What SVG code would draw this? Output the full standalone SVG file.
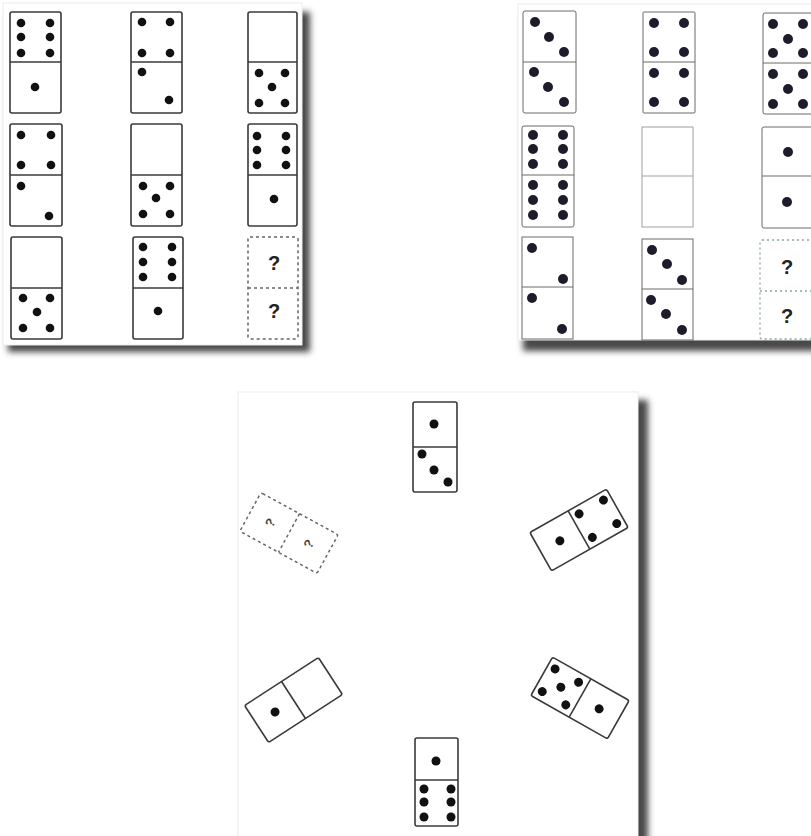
<svg xmlns="http://www.w3.org/2000/svg" width="811" height="836" viewBox="0 0 811 836">
<style>
.bg{fill:#ffffff}
.panel{fill:#ffffff;stroke:#ececec;stroke-width:1}
.shadow{fill:#4a4a4a}
.dom{fill:#ffffff;stroke:#3a3a3a;stroke-width:1.6}
.dom2{fill:#ffffff;stroke:#6a6a6a;stroke-width:1}
.light{fill:#ffffff;stroke:#a0a0a0;stroke-width:1}
.div{stroke:#3a3a3a;stroke-width:1.6}
.div2{stroke:#6a6a6a;stroke-width:1}
.divl{stroke:#a0a0a0;stroke-width:1}
.dash{fill:#ffffff;stroke:#666;stroke-width:1.5;stroke-dasharray:3 3}
.dashg{fill:#ffffff;stroke:#8aa898;stroke-width:1.3;stroke-dasharray:2 3}
.pip{fill:#111111}
.pip2{fill:#1c1c2c}
.q{font-family:"Liberation Sans",Arial,sans-serif;font-weight:bold;font-size:20px;fill:#222;text-anchor:middle}
.qs{font-family:"Liberation Sans",Arial,sans-serif;font-weight:bold;font-size:13px;fill:#444;text-anchor:middle}
</style>
<defs>
<filter id="blur" x="-10%" y="-10%" width="130%" height="130%"><feGaussianBlur stdDeviation="3"/></filter>
</defs>
<rect class="bg" x="0" y="0" width="811" height="836"/>

<!-- panels -->
<g id="panel-top-left">
<rect class="shadow" x="8" y="12" width="302" height="340" filter="url(#blur)"/>
<rect class="panel" x="3" y="3" width="299" height="342"/>
</g>
<g id="panel-top-right">
<rect class="shadow" x="523" y="12" width="300" height="339" filter="url(#blur)"/>
<rect class="panel" x="518" y="4" width="300" height="336"/>
</g>
<g id="panel-bottom">
<rect class="shadow" x="244" y="400" width="404" height="450" filter="url(#blur)"/>
<rect class="panel" x="238" y="392" width="400" height="450"/>
</g>

<!-- top-left grid -->
<g id="tl-r1c1">
<rect class="dom" x="10" y="12" width="51" height="101" rx="2"/>
<line class="div" x1="10" y1="62" x2="61" y2="62"/>
<circle class="pip" cx="21" cy="23" r="4.3"/><circle class="pip" cx="50" cy="23" r="4.3"/>
<circle class="pip" cx="21" cy="37" r="4.3"/><circle class="pip" cx="50" cy="37" r="4.3"/>
<circle class="pip" cx="21" cy="53" r="4.3"/><circle class="pip" cx="50" cy="53" r="4.3"/>
<circle class="pip" cx="35" cy="87" r="4.3"/>
</g>
<g id="tl-r1c2">
<rect class="dom" x="131" y="12" width="51" height="101" rx="2"/>
<line class="div" x1="131" y1="62" x2="182" y2="62"/>
<circle class="pip" cx="142" cy="22" r="4.3"/><circle class="pip" cx="170" cy="22" r="4.3"/>
<circle class="pip" cx="142" cy="53" r="4.3"/><circle class="pip" cx="170" cy="53" r="4.3"/>
<circle class="pip" cx="142" cy="72" r="4.3"/><circle class="pip" cx="169" cy="100" r="4.3"/>
</g>
<g id="tl-r1c3">
<rect class="dom" x="248" y="12" width="49" height="101" rx="2"/>
<line class="div" x1="248" y1="62" x2="297" y2="62"/>
<circle class="pip" cx="259" cy="73" r="4.3"/><circle class="pip" cx="285" cy="73" r="4.3"/>
<circle class="pip" cx="272" cy="87" r="4.3"/>
<circle class="pip" cx="259" cy="103" r="4.3"/><circle class="pip" cx="285" cy="103" r="4.3"/>
</g>
<g id="tl-r2c1">
<rect class="dom" x="10" y="124" width="52" height="102" rx="2"/>
<line class="div" x1="10" y1="175" x2="62" y2="175"/>
<circle class="pip" cx="21" cy="135" r="4.3"/><circle class="pip" cx="51" cy="135" r="4.3"/>
<circle class="pip" cx="21" cy="165" r="4.3"/><circle class="pip" cx="51" cy="165" r="4.3"/>
<circle class="pip" cx="21" cy="186" r="4.3"/><circle class="pip" cx="49" cy="216" r="4.3"/>
</g>
<g id="tl-r2c2">
<rect class="dom" x="131" y="124" width="51" height="102" rx="2"/>
<line class="div" x1="131" y1="175" x2="182" y2="175"/>
<circle class="pip" cx="143" cy="186" r="4.3"/><circle class="pip" cx="170" cy="186" r="4.3"/>
<circle class="pip" cx="156" cy="198" r="4.3"/>
<circle class="pip" cx="143" cy="214" r="4.3"/><circle class="pip" cx="170" cy="214" r="4.3"/>
</g>
<g id="tl-r2c3">
<rect class="dom" x="248" y="124" width="49" height="102" rx="2"/>
<line class="div" x1="248" y1="175" x2="297" y2="175"/>
<circle class="pip" cx="257" cy="136" r="4.3"/><circle class="pip" cx="286" cy="136" r="4.3"/>
<circle class="pip" cx="257" cy="150" r="4.3"/><circle class="pip" cx="286" cy="150" r="4.3"/>
<circle class="pip" cx="257" cy="165" r="4.3"/><circle class="pip" cx="286" cy="165" r="4.3"/>
<circle class="pip" cx="274" cy="199" r="4.3"/>
</g>
<g id="tl-r3c1">
<rect class="dom" x="11" y="237" width="51" height="102" rx="2"/>
<line class="div" x1="11" y1="288" x2="62" y2="288"/>
<circle class="pip" cx="23" cy="298" r="4.3"/><circle class="pip" cx="50" cy="298" r="4.3"/>
<circle class="pip" cx="37" cy="312" r="4.3"/>
<circle class="pip" cx="23" cy="328" r="4.3"/><circle class="pip" cx="50" cy="328" r="4.3"/>
</g>
<g id="tl-r3c2">
<rect class="dom" x="133" y="237" width="50" height="102" rx="2"/>
<line class="div" x1="133" y1="288" x2="183" y2="288"/>
<circle class="pip" cx="143" cy="247" r="4.3"/><circle class="pip" cx="172" cy="247" r="4.3"/>
<circle class="pip" cx="143" cy="262" r="4.3"/><circle class="pip" cx="172" cy="262" r="4.3"/>
<circle class="pip" cx="143" cy="277" r="4.3"/><circle class="pip" cx="172" cy="277" r="4.3"/>
<circle class="pip" cx="158" cy="311" r="4.3"/>
</g>
<g id="tl-r3c3">
<rect class="dash" x="248" y="237" width="50" height="102" rx="2"/>
<line class="dash" x1="248" y1="288" x2="298" y2="288"/>
<text class="q" x="274" y="270">?</text>
<text class="q" x="274" y="318">?</text>
</g>

<!-- top-right grid -->
<g id="tr-r1c1">
<rect class="dom2" x="523" y="11" width="53" height="102" rx="2"/>
<line class="div2" x1="523" y1="62" x2="576" y2="62"/>
<circle class="pip2" cx="535" cy="22" r="5"/><circle class="pip2" cx="549" cy="37" r="5"/><circle class="pip2" cx="564" cy="52" r="5"/>
<circle class="pip2" cx="534" cy="72" r="5"/><circle class="pip2" cx="548" cy="87" r="5"/><circle class="pip2" cx="564" cy="102" r="5"/>
</g>
<g id="tr-r1c2">
<rect class="dom2" x="643" y="12" width="52" height="101" rx="1"/>
<line class="div2" x1="643" y1="62" x2="695" y2="62"/>
<circle class="pip2" cx="654" cy="23" r="5"/><circle class="pip2" cx="684" cy="23" r="5"/>
<circle class="pip2" cx="654" cy="52" r="5"/><circle class="pip2" cx="684" cy="52" r="5"/>
<circle class="pip2" cx="654" cy="73" r="5"/><circle class="pip2" cx="684" cy="73" r="5"/>
<circle class="pip2" cx="654" cy="102" r="5"/><circle class="pip2" cx="684" cy="102" r="5"/>
</g>
<g id="tr-r1c3">
<rect class="dom2" x="763" y="13" width="54" height="101" rx="2"/>
<line class="div2" x1="763" y1="63" x2="817" y2="63"/>
<circle class="pip2" cx="773" cy="24" r="5"/><circle class="pip2" cx="803" cy="24" r="5"/>
<circle class="pip2" cx="788" cy="39" r="5"/>
<circle class="pip2" cx="773" cy="53" r="5"/><circle class="pip2" cx="803" cy="53" r="5"/>
<circle class="pip2" cx="773" cy="74" r="5"/><circle class="pip2" cx="803" cy="74" r="5"/>
<circle class="pip2" cx="788" cy="89" r="5"/>
<circle class="pip2" cx="773" cy="104" r="5"/><circle class="pip2" cx="803" cy="104" r="5"/>
</g>
<g id="tr-r2c1">
<rect class="dom2" x="522" y="126" width="52" height="101" rx="2"/>
<line class="div2" x1="522" y1="175" x2="574" y2="175"/>
<circle class="pip2" cx="533" cy="135" r="5"/><circle class="pip2" cx="563" cy="135" r="5"/>
<circle class="pip2" cx="533" cy="149" r="5"/><circle class="pip2" cx="563" cy="149" r="5"/>
<circle class="pip2" cx="533" cy="164" r="5"/><circle class="pip2" cx="563" cy="164" r="5"/>
<circle class="pip2" cx="533" cy="185" r="5"/><circle class="pip2" cx="563" cy="185" r="5"/>
<circle class="pip2" cx="533" cy="200" r="5"/><circle class="pip2" cx="563" cy="200" r="5"/>
<circle class="pip2" cx="533" cy="215" r="5"/><circle class="pip2" cx="563" cy="215" r="5"/>
</g>
<g id="tr-r2c2">
<rect class="light" x="642" y="127" width="51" height="100"/>
<line class="divl" x1="642" y1="176" x2="693" y2="176"/>
</g>
<g id="tr-r2c3">
<rect class="dom2" x="762" y="127" width="55" height="101" rx="2"/>
<line class="div2" x1="762" y1="176" x2="817" y2="176"/>
<circle class="pip2" cx="788" cy="152" r="5"/>
<circle class="pip2" cx="787" cy="202" r="5"/>
</g>
<g id="tr-r3c1">
<rect class="dom2" x="522" y="237" width="51" height="102"/>
<line class="div2" x1="522" y1="287" x2="573" y2="287"/>
<circle class="pip2" cx="532" cy="248" r="5"/><circle class="pip2" cx="563" cy="279" r="5"/>
<circle class="pip2" cx="532" cy="298" r="5"/><circle class="pip2" cx="562" cy="329" r="5"/>
</g>
<g id="tr-r3c2">
<rect class="dom2" x="642" y="239" width="51" height="101"/>
<line class="div2" x1="642" y1="289" x2="693" y2="289"/>
<circle class="pip2" cx="652" cy="250" r="5"/><circle class="pip2" cx="667" cy="264" r="5"/><circle class="pip2" cx="682" cy="280" r="5"/>
<circle class="pip2" cx="651" cy="300" r="5"/><circle class="pip2" cx="666" cy="314" r="5"/><circle class="pip2" cx="682" cy="330" r="5"/>
</g>
<g id="tr-r3c3">
<rect class="dashg" x="760" y="240" width="56" height="99" rx="2"/>
<line class="dashg" x1="760" y1="291" x2="816" y2="291"/>
<text class="q" x="787" y="274">?</text>
<text class="q" x="787" y="323">?</text>
</g>

<!-- bottom circle of dominoes -->
<g id="b-top">
<rect class="dom" x="413" y="402" width="44" height="90" rx="2"/>
<line class="div" x1="413" y1="447" x2="457" y2="447"/>
<circle class="pip" cx="434" cy="424" r="4.5"/>
<circle class="pip" cx="422" cy="454" r="4.5"/><circle class="pip" cx="434" cy="470" r="4.5"/><circle class="pip" cx="448" cy="482" r="4.5"/>
</g>
<g id="b-right-top" transform="translate(579,530) rotate(-29.5)">
<rect class="dom" x="-44" y="-22" width="88" height="44" rx="2"/>
<line class="div" x1="0" y1="-22" x2="0" y2="22"/>
<circle class="pip" cx="-22" cy="0" r="4.5"/>
<circle class="pip" cx="8" cy="-14" r="4.5"/><circle class="pip" cx="36" cy="-14" r="4.5"/>
<circle class="pip" cx="8" cy="13" r="4.5"/><circle class="pip" cx="36" cy="13" r="4.5"/>
</g>
<g id="b-right-bottom" transform="translate(580,698) rotate(29.5)">
<rect class="dom" x="-44" y="-22" width="88" height="44" rx="2"/>
<line class="div" x1="0" y1="-22" x2="0" y2="22"/>
<circle class="pip" cx="-36" cy="-13" r="4.5"/><circle class="pip" cx="-9" cy="-13" r="4.5"/>
<circle class="pip" cx="-22" cy="0" r="4.5"/>
<circle class="pip" cx="-36" cy="13" r="4.5"/><circle class="pip" cx="-9" cy="13" r="4.5"/>
<circle class="pip" cx="22" cy="0" r="4.5"/>
</g>
<g id="b-bottom">
<rect class="dom" x="415" y="738" width="43" height="88" rx="2"/>
<line class="div" x1="415" y1="780" x2="458" y2="780"/>
<circle class="pip" cx="436" cy="761" r="4.5"/>
<circle class="pip" cx="424" cy="789" r="4.5"/><circle class="pip" cx="451" cy="789" r="4.5"/>
<circle class="pip" cx="424" cy="802" r="4.5"/><circle class="pip" cx="451" cy="802" r="4.5"/>
<circle class="pip" cx="424" cy="817" r="4.5"/><circle class="pip" cx="451" cy="817" r="4.5"/>
</g>
<g id="b-left-bottom" transform="translate(293.5,700) rotate(-33)">
<rect class="dom" x="-44" y="-22" width="88" height="44" rx="2"/>
<line class="div" x1="0" y1="-22" x2="0" y2="22"/>
<circle class="pip" cx="-22" cy="0" r="4.5"/>
</g>
<g id="b-left-top" transform="translate(289,533) rotate(28.6)">
<rect class="dash" x="-44" y="-22" width="88" height="44" rx="2"/>
<line class="dash" x1="0" y1="-22" x2="0" y2="22"/>
<text class="qs" transform="translate(-22,0) rotate(-90)" x="0" y="5">?</text>
<text class="qs" transform="translate(22,0) rotate(-90)" x="0" y="5">?</text>
</g>
</svg>
